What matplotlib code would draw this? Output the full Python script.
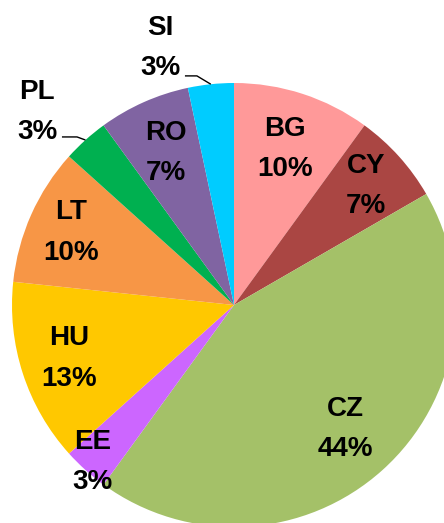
import numpy as np
import matplotlib
matplotlib.use("Agg")
import matplotlib.pyplot as plt

# data
countries = ["BG", "CY", "CZ", "EE", "HU", "LT", "PL", "RO", "SI"]
counts = [3, 2, 13, 1, 4, 3, 1, 2, 1]
pct_labels = ["10%", "7%", "44%", "3%", "13%", "10%", "3%", "7%", "3%"]
colors = ["#FF9999", "#AA4643", "#A4C168", "#CC66FF", "#FFC800",
          "#F79646", "#00B050", "#8064A2", "#00CCFF"]
# label distance from centre (in radii), None = outside with leader line
label_r = [0.74, 0.80, 0.75, 0.95, 0.78, 0.805, None, 0.75, None]

fig = plt.figure(figsize=(4.44, 5.23), dpi=100)
ax = fig.add_axes([0, 0, 1, 1])

wedges, _ = ax.pie(counts, colors=colors, startangle=90, counterclock=False,
                   radius=1.0, wedgeprops=dict(linewidth=0))

# pie centre at (234, 305) px, radius 222 px
ax.set_aspect("auto")
ax.set_xlim(-234 / 222, 210 / 222)
ax.set_ylim(-218 / 222, 305 / 222)
ax.axis("off")

font = dict(family="Liberation Sans", fontweight="bold", fontsize=20,
            ha="center", va="center", linespacing=1.72, color="black")

outside = {"SI": ((-0.33, 1.158), (-0.221, -0.167, 1.032)),
           "PL": ((-0.887, 0.869), (-0.775, -0.707, 0.757))}

for w, name, lab, r in zip(wedges, countries, pct_labels, label_r):
    mid = np.deg2rad((w.theta1 + w.theta2) / 2)
    txt = f"{name}\n{lab}"
    if r is not None:
        ax.text(r * np.cos(mid), r * np.sin(mid), txt, **font)
    else:
        (tx, ty), (x0, kx, ky) = outside[name]
        ax.text(tx, ty, txt, **font)
        ax.plot([x0, kx, np.cos(mid)], [ky, ky, np.sin(mid)],
                color="black", linewidth=1.0, solid_capstyle="butt")

fig.savefig("out.png", dpi=100)
